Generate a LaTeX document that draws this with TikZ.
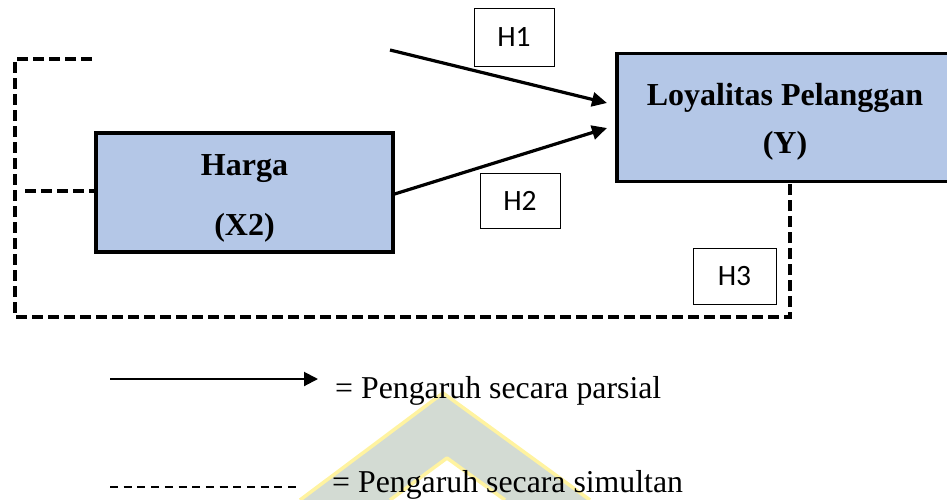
\documentclass[tikz,border=0pt]{standalone}
\usepackage{fontspec}
\setmainfont{Liberation Serif}
\newfontfamily\calib{Carlito}
\usetikzlibrary{arrows.meta}
\definecolor{boxblue}{HTML}{B4C7E7}
\definecolor{wmgrey}{HTML}{D3DBD3}
\definecolor{wmyellow}{HTML}{FFF3A0}
\tikzset{
  varbox/.style={draw=black, line width=3.2pt, fill=boxblue, rectangle, inner sep=0pt},
  hbox/.style={draw=black, line width=0.9pt, fill=white, rectangle, inner sep=0pt, font=\calib\fontsize{29.5}{32}\selectfont},
  boldlbl/.style={inner sep=0pt, anchor=base, font=\bfseries\fontsize{32}{36}\selectfont},
  leglbl/.style={inner sep=0pt, anchor=base west, font=\fontsize{31.8}{36}\selectfont},
  partial/.style={line width=3.2pt, -{Triangle[length=15pt, width=14pt]}},
  simul/.style={line width=3.2pt, dash pattern=on 11pt off 5pt},
}
\begin{document}
\begin{tikzpicture}[x=1pt, y=-1pt]
\useasboundingbox (0,0) rectangle (947,499);
% watermark
\fill[wmgrey] (443,393) -- (300,500) -- (390,500) -- (447,458) -- (505,500) -- (590,500) -- cycle;
\draw[wmyellow, line width=3.5pt, line join=round] (300,500) -- (443,393) -- (590,500);
\draw[wmyellow, line width=3.5pt, line join=round] (390,500) -- (447,458) -- (505,500);
% boxes
\node[varbox, minimum width=297pt, minimum height=119pt] (harga) at (244.5,192.5) {};
\node[boldlbl] (hargaA) at (244.5,175) {Harga};
\node[boldlbl] (hargaB) at (244.5,235) {(X2)};
\node[varbox, minimum width=336pt, minimum height=128pt] (loyal) at (785,117.5) {};
\node[boldlbl] (loyalA) at (785,105) {Loyalitas Pelanggan};
\node[boldlbl] (loyalB) at (785,153) {(Y)};
% hypothesis labels
\node[hbox, minimum width=80pt, minimum height=58pt] (h1) at (514,37) {H1};
\node[hbox, minimum width=80pt, minimum height=55pt] (h2) at (520,200.5) {H2};
\node[hbox, minimum width=83pt, minimum height=56pt] (h3) at (734.5,276) {H3};
% partial arrows
\coordinate (x1end) at (390,50);
\coordinate (t1) at (607,103);
\coordinate (t2) at (607,128);
\draw[partial] (x1end) -- (t1);
\draw[partial] (harga.east |- 0,194) -- (t2);
% simultaneous bracket
\coordinate (ctop) at (92,59);
\coordinate (ctl) at (15,59);
\coordinate (cbl) at (15,317);
\coordinate (cbr) at (790,317);
\coordinate (cmid) at (25,191);
\draw[simul] (ctop) -- (ctl) -- (cbl) -- (cbr) -- (loyal.south -| cbr);
\draw[simul] (cmid) -- (harga.west |- cmid);
% legend
\coordinate (la1) at (110,379);
\coordinate (la2) at (318,379);
\draw[line width=2pt, -{Triangle[length=14pt, width=14pt]}] (la1) -- (la2);
\node[leglbl] (legA) at (335,398) {= Pengaruh secara parsial};
\coordinate (ld1) at (110,487);
\coordinate (ld2) at (300,487);
\draw[line width=1.4pt, dash pattern=on 8pt off 5.7pt] (ld1) -- (ld2);
\node[leglbl] (legB) at (332,492) {= Pengaruh secara simultan};
\end{tikzpicture}
\end{document}
